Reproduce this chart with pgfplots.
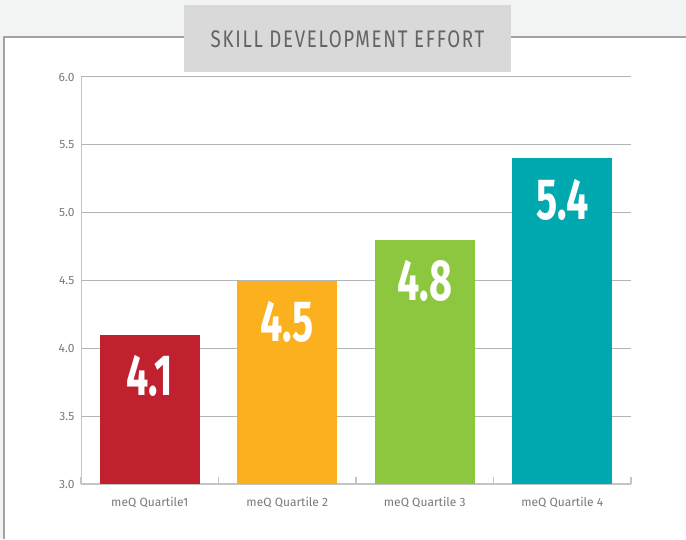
\documentclass[border=0pt]{standalone}
\usepackage{pgfplots}
\pgfplotsset{compat=1.18}
\usepackage{fontspec}
\setmainfont{Fira Sans}
\newfontfamily\titlefont[FakeStretch=0.78,LetterSpace=7]{Fira Sans}
\newfontfamily\numfont[FakeStretch=0.68]{Fira Sans}
\definecolor{bgc}{HTML}{F2F3F3}
\definecolor{bordc}{HTML}{A3A3A3}
\definecolor{titlebg}{HTML}{D9D9D9}
\definecolor{titlec}{HTML}{636363}
\definecolor{gridc}{HTML}{B4B4B4}
\definecolor{axisc}{HTML}{C4C4C4}
\definecolor{tickc}{HTML}{7A7A7A}
\definecolor{cA}{HTML}{C1202F}
\definecolor{cB}{HTML}{FBB01E}
\definecolor{cC}{HTML}{8DC63F}
\definecolor{cD}{HTML}{00A9B0}
\begin{document}
\begin{tikzpicture}[x=1pt,y=1pt]
\path[use as bounding box, fill=bgc] (0,0) rectangle (686,539);
\fill[white] (3,0) rectangle (686,502);
\draw[bordc, line width=2.5pt] (4,0) -- (4,502) -- (686,502);
\fill[titlebg] (184,467) rectangle (511,534);
\node[text=titlec, font=\titlefont\fontsize{24}{24}\selectfont, inner sep=0pt] at (347.5,500) {SKILL DEVELOPMENT EFFORT};
\begin{axis}[
  at={(81pt,55pt)}, anchor=south west,
  scale only axis, width=550pt, height=407pt,
  xmin=-0.5, xmax=3.5, ymin=3, ymax=6,
  ybar, bar width=100pt, bar shift=0pt,
  axis lines=left,
  axis line style={-, color=axisc, line width=1pt},
  x axis line style={line width=1.6pt},
  ytick={3,3.5,4,4.5,5,5.5,6},
  yticklabel style={/pgf/number format/fixed, /pgf/number format/precision=1, /pgf/number format/fixed zerofill, font=\fontsize{12}{12}\selectfont, text=tickc, xshift=-3pt},
  /pgf/number format/assume math mode=true,
  ymajorgrids, grid style={color=gridc, line width=1pt},
  ytick style={draw=none},
  xtick={0,1,2,3},
  xticklabels={meQ Quartile1, meQ Quartile 2, meQ Quartile 3, meQ Quartile 4},
  xticklabel style={font=\fontsize{12}{12}\selectfont, text=tickc, yshift=-10pt},
  major x tick style={draw=none},
  minor xtick={-0.5,0.5,1.5,2.5,3.5},
  tick align=inside, minor tick length=7pt,
  minor x tick style={color=axisc, line width=1.2pt},
  nodes near coords,
  nodes near coords style={/pgf/number format/fixed, /pgf/number format/precision=1, /pgf/number format/fixed zerofill, font=\numfont\bfseries\fontsize{58}{58}\selectfont, text=white, anchor=center, yshift=-41pt, inner sep=0pt},
]
\addplot[fill=cA, draw=none] coordinates {(0,4.1)};
\addplot[fill=cB, draw=none] coordinates {(1,4.5)};
\addplot[fill=cC, draw=none] coordinates {(2,4.8)};
\addplot[fill=cD, draw=none] coordinates {(3,5.4)};
\end{axis}
\end{tikzpicture}
\end{document}
